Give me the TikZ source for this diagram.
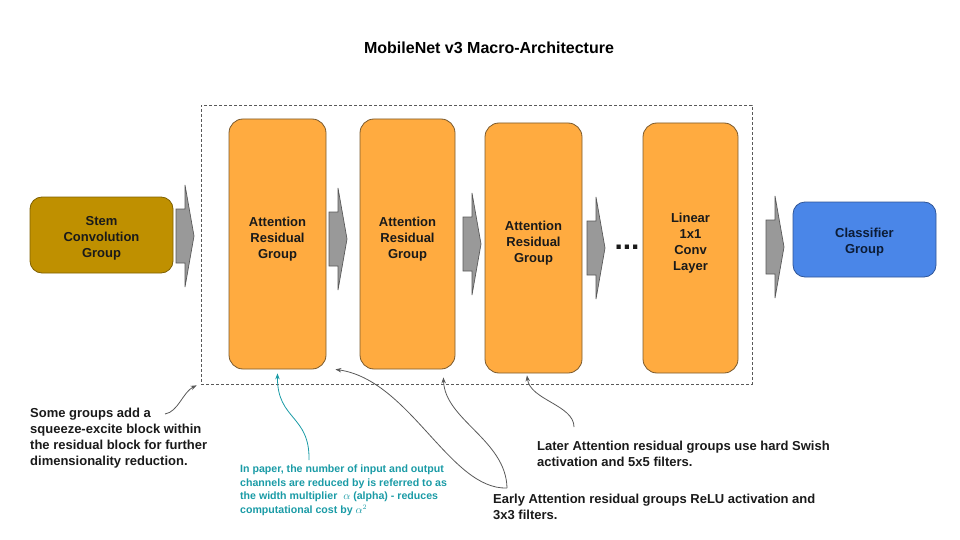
\documentclass[tikz,border=0pt]{standalone}
\usepackage{fontspec}
\setmainfont{Liberation Sans}
\usetikzlibrary{calc,arrows.meta}

\definecolor{orangefill}{HTML}{FFAB40}
\definecolor{orangeline}{HTML}{7A5A2E}
\definecolor{stemfill}{HTML}{BF9000}
\definecolor{stemline}{HTML}{7F6000}
\definecolor{clsfill}{HTML}{4A86E8}
\definecolor{clsline}{HTML}{2F5597}
\definecolor{clstext}{HTML}{0C1C36}
\definecolor{arrowfill}{HTML}{999999}
\definecolor{lineGray}{HTML}{595959}
\definecolor{tealnote}{HTML}{1A9BA6}
\definecolor{inktext}{HTML}{1A1A1A}

\begin{document}
\begin{tikzpicture}[
  x=1pt, y=-1pt,
  groupbox/.style={draw=orangeline, line width=0.8pt, fill=orangefill,
    rounded corners=14pt, minimum height=250pt, inner sep=0pt},
  sidebox/.style={line width=0.8pt, rounded corners=12pt,
    minimum width=143pt, minimum height=76pt, inner sep=0pt},
  boxtxt/.style={align=center, text=inktext, inner sep=0pt,
    font=\fontsize{13}{16}\selectfont\bfseries},
  note/.style={align=left, anchor=north west, inner sep=0pt, text=inktext,
    font=\fontsize{13}{16}\selectfont\bfseries},
  tealtxt/.style={align=left, anchor=north west, inner sep=0pt, text=tealnote,
    font=\fontsize{10.6}{13.4}\selectfont\bfseries},
  blkarrow/.style={draw=lineGray, fill=arrowfill, line width=0.7pt},
  callout/.style={draw=lineGray, line width=0.8pt,
    -{Stealth[length=6pt,width=4.5pt]}},
  tealcallout/.style={draw=tealnote, line width=0.8pt,
    -{Stealth[length=6pt,width=4.5pt]}},
  blockarrow/.pic={
    \draw[blkarrow] (0,-27) -- (9,-27) -- (9,-51) -- (18,0)
      -- (9,51) -- (9,27) -- (0,27) -- cycle;}
]
\useasboundingbox (0,0) rectangle (960,540);

% title
\node[font=\fontsize{16}{19}\selectfont\bfseries, text=black, inner sep=0pt]
  (title) at (489,48) {MobileNet v3 Macro-Architecture};

% dashed frame around the residual groups
\node[draw=lineGray, dashed, dash pattern=on 3pt off 2pt, line width=0.7pt,
  minimum width=551pt, minimum height=279pt, inner sep=0pt]
  (frame) at (476.5,244.5) {};

% stem and classifier
\node[sidebox, draw=stemline, fill=stemfill] (stem) at (101.5,235) {};
\node[sidebox, draw=clsline, fill=clsfill, minimum height=75pt]
  (cls) at (864.5,239.5) {};
\node[boxtxt] (stemtxt) at ($(stem)+(0,3)$) {Stem\\Convolution\\Group};
\node[boxtxt, text=clstext] (clstxt) at ($(cls)+(0,3)$) {Classifier\\Group};

% residual groups
\node[groupbox, minimum width=97pt] (b1) at (277.5,244) {};
\node[groupbox, minimum width=95pt] (b2) at (407.5,244) {};
\node[groupbox, minimum width=97pt] (b3) at (533.5,248) {};
\node[groupbox, minimum width=95pt] (b4) at (690.5,248) {};

\node[boxtxt] (t1) at ($(b1)+(0,-5)$) {Attention\\Residual\\Group};
\node[boxtxt] (t2) at ($(b2)+(0,-5)$) {Attention\\Residual\\Group};
\node[boxtxt] (t3) at ($(b3)+(0,-5)$) {Attention\\Residual\\Group};
\node[boxtxt] (t4) at ($(b4)+(0,-5)$) {Linear\\1x1\\Conv\\Layer};

% block arrows between stages
\pic (a1) at (176,236) {blockarrow};
\pic (a2) at (329,239) {blockarrow};
\pic (a3) at (463,244) {blockarrow};
\pic (a4) at (587,248) {blockarrow};
\pic (a5) at (766,247) {blockarrow};

% ellipsis
\node[font=\fontsize{30}{30}\selectfont\bfseries, text=inktext, inner sep=0pt,
  anchor=base] (dots) at (627,249) {...};

% annotations
\node[note] (sg) at (30,408)
  {Some groups add a\\squeeze-excite block within\\the residual block for further\\dimensionality reduction.};
\node[tealtxt] (tl) at (240,465)
  {In paper, the number of input and output\\channels are reduced by is referred to as\\the width multiplier\ \ $\alpha$ (alpha) - reduces\\computational cost by $\alpha^2$};
\node[note] (later) at (537,441)
  {Later Attention residual groups use hard Swish\\activation and 5x5 filters.};
\node[note] (early) at (493,494)
  {Early Attention residual groups ReLU activation and\\3x3 filters.};

% callout anchors
\coordinate (sgtail) at (165,414);
\coordinate (tltail) at (309,460);
\coordinate (earlytail) at (507,488);
\coordinate (latertail) at (574,427);

% callouts
\draw[callout] (sgtail) .. controls (178,412) and (183,392) .. ($(frame.south west)+(-4,1)$);
\draw[tealcallout] (tltail) .. controls (310,415) and (277,420) .. ($(b1.south)+(0,4)$);
\draw[callout] (earlytail) .. controls (450,490) and (410,380) .. ($(b1.south east)+(9,0)$);
\draw[callout] (earlytail) .. controls (506,440) and (445,420) .. ($(b2.south east)+(-12,8)$);
\draw[callout] (latertail) .. controls (574,405) and (530,400) .. ($(b3.south)+(-6.5,2)$);

\end{tikzpicture}
\end{document}
